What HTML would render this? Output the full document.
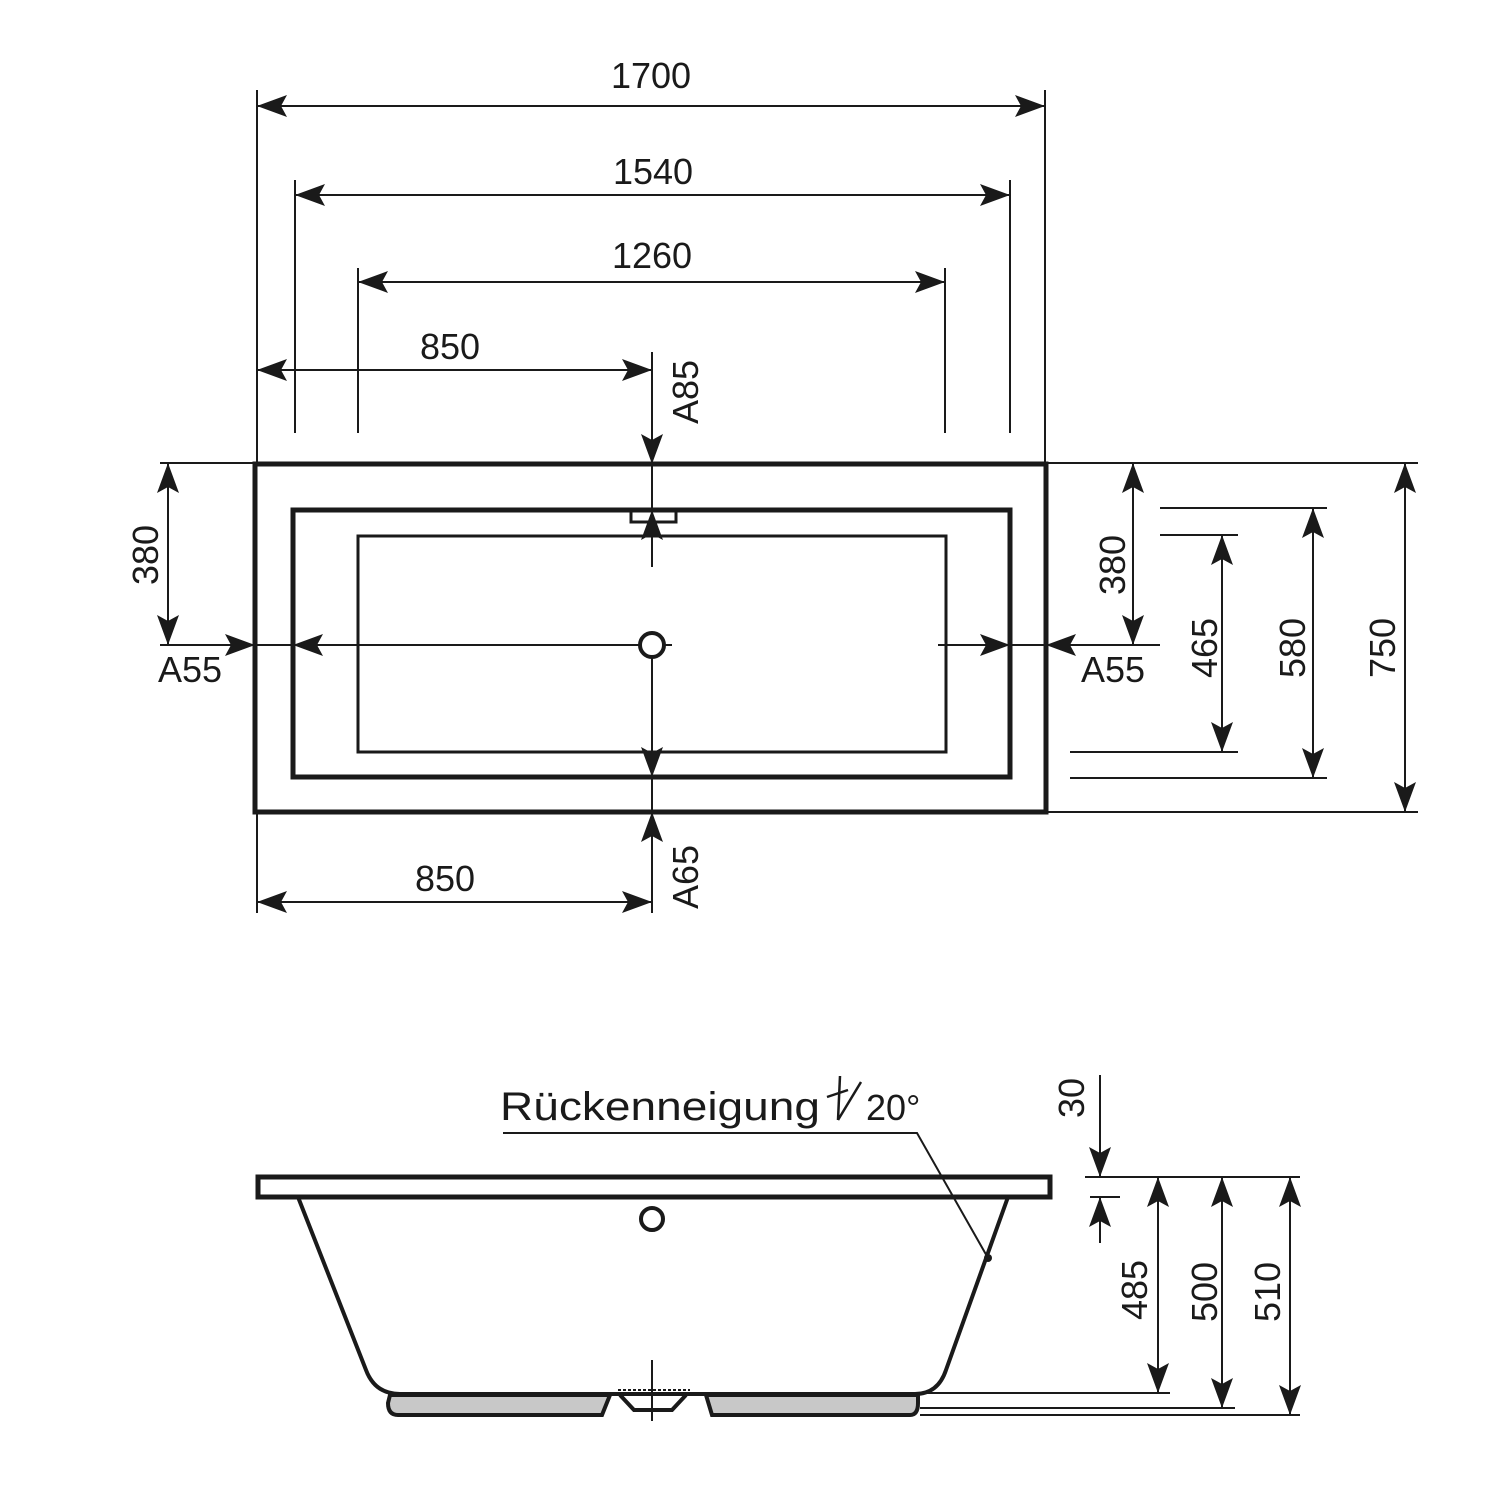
<!DOCTYPE html>
<html><head><meta charset="utf-8"><style>
html,body{margin:0;padding:0;background:#fff}
svg{display:block}
text{font-family:"Liberation Sans",sans-serif;font-size:36px;fill:#1a1a1a}
</style></head><body>
<svg width="1500" height="1500" viewBox="0 0 1500 1500" xmlns="http://www.w3.org/2000/svg">
<defs>
<marker id="a" markerUnits="userSpaceOnUse" markerWidth="32" markerHeight="22" refX="30" refY="11" orient="auto-start-reverse">
<path d="M0,0 L30,11 L0,22 L6,11 Z" fill="#1a1a1a"/>
</marker>
</defs>
<g stroke="#1a1a1a" fill="none">
<rect x="255" y="464" width="791" height="348" stroke-width="5"/>
<rect x="293" y="510" width="717" height="267" stroke-width="5"/>
<rect x="358" y="536" width="588" height="216" stroke-width="3"/>
<path d="M631,510 V522 H676 V510" stroke-width="3"/>
<circle cx="652" cy="645" r="12" stroke-width="4"/>
<g stroke-width="2">
<line x1="257" y1="90" x2="257" y2="464"/>
<line x1="1045" y1="90" x2="1045" y2="464"/>
<line x1="295" y1="180" x2="295" y2="433"/>
<line x1="1010" y1="180" x2="1010" y2="433"/>
<line x1="358" y1="268" x2="358" y2="433"/>
<line x1="945" y1="268" x2="945" y2="433"/>
<line x1="257" y1="106" x2="1045" y2="106" marker-start="url(#a)" marker-end="url(#a)"/>
<line x1="295" y1="195" x2="1010" y2="195" marker-start="url(#a)" marker-end="url(#a)"/>
<line x1="358" y1="282" x2="945" y2="282" marker-start="url(#a)" marker-end="url(#a)"/>
<line x1="257" y1="370" x2="652" y2="370" marker-start="url(#a)" marker-end="url(#a)"/>
<line x1="652" y1="352" x2="652" y2="464" marker-end="url(#a)"/>
<line x1="652" y1="567" x2="652" y2="510" marker-end="url(#a)"/>
<line x1="652" y1="464" x2="652" y2="510"/>
<line x1="652" y1="657" x2="652" y2="777" marker-end="url(#a)"/>
<line x1="652" y1="913" x2="652" y2="812" marker-end="url(#a)"/>
<line x1="652" y1="777" x2="652" y2="812"/>
<line x1="257" y1="812" x2="257" y2="913"/>
<line x1="257" y1="902" x2="652" y2="902" marker-start="url(#a)" marker-end="url(#a)"/>
<line x1="160" y1="645" x2="255" y2="645" marker-end="url(#a)"/>
<line x1="640" y1="645" x2="293" y2="645" marker-end="url(#a)"/>
<line x1="664" y1="645" x2="672" y2="645"/>
<line x1="938" y1="645" x2="1010" y2="645" marker-end="url(#a)"/>
<line x1="1160" y1="645" x2="1046" y2="645" marker-end="url(#a)"/>
<line x1="255" y1="645" x2="293" y2="645"/>
<line x1="1010" y1="645" x2="1046" y2="645"/>
<line x1="160" y1="463" x2="255" y2="463"/>
<line x1="168" y1="463" x2="168" y2="645" marker-start="url(#a)" marker-end="url(#a)"/>
<line x1="1046" y1="463" x2="1418" y2="463"/>
<line x1="1046" y1="812" x2="1418" y2="812"/>
<line x1="1133" y1="463" x2="1133" y2="645" marker-start="url(#a)" marker-end="url(#a)"/>
<line x1="1160" y1="535" x2="1238" y2="535"/>
<line x1="1070" y1="752" x2="1238" y2="752"/>
<line x1="1222" y1="535" x2="1222" y2="752" marker-start="url(#a)" marker-end="url(#a)"/>
<line x1="1160" y1="508" x2="1327" y2="508"/>
<line x1="1070" y1="778" x2="1327" y2="778"/>
<line x1="1313" y1="508" x2="1313" y2="778" marker-start="url(#a)" marker-end="url(#a)"/>
<line x1="1405" y1="463" x2="1405" y2="812" marker-start="url(#a)" marker-end="url(#a)"/>
</g>
<path d="M390,1395 L388,1403 Q388,1415 398,1415 L602,1415 L610,1395 Z" fill="#c8c8c8" stroke-width="4"/>
<path d="M706,1395 L712,1415 L910,1415 Q918,1415 918,1403 L918,1395 Z" fill="#c8c8c8" stroke-width="4"/>
<path d="M298,1197 L366,1370 Q375,1394 400,1394 L915,1394 Q938,1394 946,1370 L1008,1197" stroke-width="4" fill="#fff"/>
<path d="M620,1395 L634,1410 L672,1410 L686,1395" stroke-width="4"/>
<rect x="258" y="1177" width="792" height="20" stroke-width="5" fill="#fff"/>
<circle cx="652" cy="1219" r="11" stroke-width="4"/>
<line x1="618" y1="1390" x2="690" y2="1390" stroke-width="2" stroke-dasharray="3,2"/>
<line x1="652" y1="1360" x2="652" y2="1421" stroke-width="2"/>
<polyline points="503,1133 917,1133 988,1258" stroke-width="2"/>
<circle cx="988" cy="1258" r="4" fill="#1a1a1a" stroke="none"/>
<line x1="840" y1="1076" x2="838" y2="1120" stroke-width="2.5"/>
<line x1="827" y1="1097" x2="848" y2="1090" stroke-width="2.5"/>
<line x1="838" y1="1120" x2="861" y2="1082" stroke-width="2.5"/>
<g stroke-width="2">
<line x1="1085" y1="1177" x2="1300" y2="1177"/>
<line x1="1100" y1="1075" x2="1100" y2="1177" marker-end="url(#a)"/>
<line x1="1090" y1="1197" x2="1120" y2="1197"/>
<line x1="1100" y1="1243" x2="1100" y2="1197" marker-end="url(#a)"/>
<line x1="920" y1="1393" x2="1170" y2="1393"/>
<line x1="1158" y1="1177" x2="1158" y2="1393" marker-start="url(#a)" marker-end="url(#a)"/>
<line x1="920" y1="1408" x2="1235" y2="1408"/>
<line x1="1222" y1="1177" x2="1222" y2="1408" marker-start="url(#a)" marker-end="url(#a)"/>
<line x1="920" y1="1415" x2="1300" y2="1415"/>
<line x1="1290" y1="1177" x2="1290" y2="1415" marker-start="url(#a)" marker-end="url(#a)"/>
</g>
</g>
<g text-anchor="middle">
<text x="651" y="88">1700</text>
<text x="653" y="184">1540</text>
<text x="652" y="268">1260</text>
<text x="450" y="359">850</text>
<text x="445" y="891">850</text>
<text x="190" y="682">A55</text>
<text x="1113" y="682">A55</text>
<text transform="translate(698,392) rotate(-90)">A85</text>
<text transform="translate(698,877) rotate(-90)">A65</text>
<text transform="translate(158,555) rotate(-90)">380</text>
<text transform="translate(1125,565) rotate(-90)">380</text>
<text transform="translate(1217,648) rotate(-90)">465</text>
<text transform="translate(1305,648) rotate(-90)">580</text>
<text transform="translate(1395,648) rotate(-90)">750</text>
<text transform="translate(1084,1098) rotate(-90)">30</text>
<text transform="translate(1147,1290) rotate(-90)">485</text>
<text transform="translate(1217,1292) rotate(-90)">500</text>
<text transform="translate(1280,1292) rotate(-90)">510</text>
</g>
<text x="500" y="1120" style="font-size:40px" textLength="320" lengthAdjust="spacingAndGlyphs">Rückenneigung</text>
<text x="866" y="1120" style="font-size:36px">20°</text>
</svg>
</body></html>
